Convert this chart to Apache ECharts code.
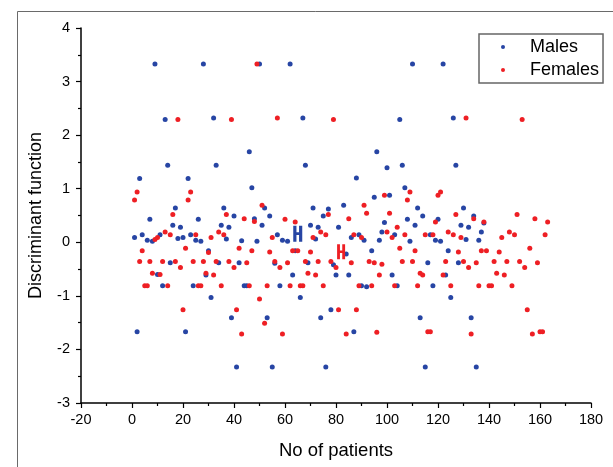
<!DOCTYPE html>
<html>
<head>
<meta charset="utf-8">
<script src="https://cdn.jsdelivr.net/npm/echarts@6/dist/echarts.min.js"></script>
<style>
  html, body { margin: 0; padding: 0; background: #fff; }
  #main { width: 613px; height: 467px; }
</style>
</head>
<body>
<div id="main"></div>
<script>
// patient number / discriminant score
const malePatients = [1,2,3,4,6,7,8,9,10,11,12,13,14,15,16,17,18,19,20,21,22,23,24,25,26,27,28,29,30,31,32,33,34,35,36,37,38,39,40,41,42,43,44,45,46,47,48,49,50,51,52,53,54,55,56,57,58,59,61,62,63,64,66,67,68,69,70,71,72,73,74,75,76,77,78,79,80,81,83,84,85,86,87,88,89,90,91,92,94,95,96,97,98,99,100,101,102,103,104,105,106,107,108,109,110,111,112,113,114,115,116,117,118,119,120,121,122,123,124,125,126,127,128,129,130,131,132,133,134,135,136,137,138]
const maleScores = [0.09,-1.67,1.19,0.14,0.04,0.43,0.02,3.33,-0.60,0.14,-0.81,2.29,1.44,-0.38,0.32,0.64,0.07,0.28,0.09,-1.67,1.19,0.14,-0.81,0.04,0.43,0.02,3.33,-0.61,-0.16,-1.03,2.32,1.44,-0.38,0.32,0.64,0.06,0.28,-1.41,0.49,-2.33,-0.38,0.03,-0.81,-0.81,1.69,1.02,0.44,0.02,3.33,0.32,0.64,-1.41,0.49,-2.33,-0.39,0.14,-0.81,0.04,0.02,3.33,-0.61,-0.16,-1.03,2.32,1.44,-0.38,0.32,0.64,0.06,0.28,-1.41,0.49,-2.33,0.62,-1.26,-0.42,-0.61,0.28,0.69,-0.22,-0.61,0.09,-1.67,1.20,0.14,-0.81,0.04,-0.83,-0.16,0.84,1.69,0.04,0.19,0.37,1.39,0.88,-0.61,0.14,-0.81,2.29,1.44,1.02,0.43,0.02,3.33,0.32,0.64,-1.41,0.49,-2.33,-0.38,0.14,-0.81,0.04,0.43,0.02,3.33,-0.61,-0.16,-1.03,2.32,1.44,-0.38,0.32,0.64,0.05,0.28,-1.41,0.49,-2.33,0.04,0.19,0.36]

const femalePatients = [1,2,3,4,5,6,7,8,9,10,11,12,13,14,15,16,17,18,19,20,21,22,23,24,25,26,27,28,29,30,31,32,33,34,35,36,37,38,39,40,41,42,43,44,45,46,47,48,49,50,51,52,53,54,55,56,57,58,59,60,61,62,63,64,65,66,67,68,69,70,71,72,73,74,75,76,77,78,79,80,81,84,85,86,87,88,89,90,91,92,93,94,95,96,97,98,99,100,101,102,103,104,105,106,107,108,109,110,111,112,113,114,115,116,117,118,119,120,121,122,123,124,125,126,127,128,129,130,131,132,133,134,135,136,137,138,139,140,141,142,143,144,145,146,147,148,149,150,151,152,153,154,155,156,157,158,159,160,161,162,163]
const femaleScores = [0.79,0.94,-0.36,-0.16,-0.81,-0.81,-0.36,-0.58,0.05,0.09,-0.60,-0.36,0.19,-0.81,0.14,0.52,-0.36,2.29,-0.47,-1.26,-0.11,0.79,0.94,-0.36,0.14,-0.81,-0.81,-0.36,-0.58,-0.19,0.09,-0.61,-0.36,0.19,-0.81,0.14,0.52,-0.36,2.29,-0.47,-1.26,-0.11,-1.71,0.44,-0.38,-0.81,-0.16,0.39,3.33,-1.06,0.69,-1.51,-0.81,-0.18,0.09,-0.36,2.32,-0.47,-1.71,0.43,-0.38,-0.81,-0.16,0.38,-0.16,-0.81,-0.81,-0.36,-0.58,-0.18,0.09,-0.61,-0.36,0.19,-0.81,0.14,0.52,-0.36,2.29,-0.47,-1.26,-1.71,0.44,-0.38,0.14,-1.26,-0.81,0.09,0.69,0.54,-0.36,-0.81,-0.38,-1.68,-0.61,-0.41,0.88,0.19,0.54,0.09,-0.81,0.28,-0.11,-0.36,0.14,0.79,0.94,-0.36,-0.16,-0.81,-0.58,-0.61,0.14,-1.67,-1.67,0.14,0.38,0.88,0.94,-0.61,-0.36,0.19,-0.81,0.14,0.52,-0.18,0.09,-0.36,2.32,-0.47,-1.71,0.44,-0.38,-0.81,-0.16,0.38,-0.16,-0.81,-0.81,-0.36,-0.58,-0.18,0.09,-0.61,-0.36,0.19,-0.81,0.14,0.52,-0.36,2.29,-0.47,-1.26,-0.11,-1.71,0.44,-0.38,-1.67,-1.67,0.14,0.38]

// group means (the H marks)
const meanMale = [65, 0.16]
const meanFemale = [82, -0.175]

const xTicks = { min: -20, max: 180, step: 20 }
const yTicks = { min: -3, max: 4, step: 1 }

const blue = '#2745a4'
const red = '#ee1f24'
const hPath = 'path://M0,0 L3.2,0 L3.2,5.8 L5.8,5.8 L5.8,0 L9,0 L9,14 L5.8,14 L5.8,8.2 L3.2,8.2 L3.2,14 L0,14 Z'

function pairs(xs, ys) {
  return xs.map((x, i) => [x, ys[i]])
}

const chartDom = document.getElementById('main')
const myChart = echarts.init(chartDom, null, { renderer: 'canvas' })
const font = '"Liberation Sans", Arial, sans-serif'

let option = {
  animation: false,
  backgroundColor: '#fff',
  textStyle: { fontFamily: font },
  grid: { left: 81, right: 22, top: 28, bottom: 64, containLabel: false },
  legend: {
    data: ['Males', 'Females'],
    orient: 'vertical',
    left: 479,
    top: 34,
    width: 126,
    itemWidth: 4,
    itemHeight: 4,
    itemGap: 5,
    icon: 'circle',
    padding: [4, 4, 4, 22],
    borderColor: '#666',
    borderWidth: 1.5,
    textStyle: { fontSize: 18, color: '#000', fontFamily: font, padding: [0, 0, 0, 20] }
  },
  xAxis: {
    type: 'value',
    min: xTicks.min,
    max: xTicks.max,
    interval: xTicks.step,
    name: 'No of patients',
    nameLocation: 'middle',
    nameGap: 38,
    nameTextStyle: { fontSize: 18.5, color: '#000', fontFamily: font },
    axisLine: { onZero: false, lineStyle: { color: '#000', width: 1.5 } },
    axisTick: { length: 5, lineStyle: { color: '#000', width: 1.2 } },
    minorTick: { show: true, splitNumber: 2, length: 3, lineStyle: { color: '#000', width: 1.2 } },
    axisLabel: { fontSize: 14.5, color: '#000', margin: 9, fontFamily: font },
    splitLine: { show: false }
  },
  yAxis: {
    type: 'value',
    min: yTicks.min,
    max: yTicks.max,
    interval: yTicks.step,
    name: 'Discriminant function',
    nameLocation: 'middle',
    nameGap: 36,
    nameTextStyle: { fontSize: 18, color: '#000', fontFamily: font },
    axisLine: { show: true, onZero: false, lineStyle: { color: '#000', width: 1.5 } },
    axisTick: { show: true, length: 5, lineStyle: { color: '#000', width: 1.2 } },
    minorTick: { show: true, splitNumber: 2, length: 3, lineStyle: { color: '#000', width: 1.2 } },
    axisLabel: { fontSize: 14.5, color: '#000', margin: 11, fontFamily: font },
    splitLine: { show: false }
  },
  graphic: [
    { type: 'line', shape: { x1: 17.5, y1: 11.5, x2: 613, y2: 11.5 }, style: { stroke: '#6a6a6a', lineWidth: 1 }, silent: true },
    { type: 'line', shape: { x1: 17.5, y1: 11.5, x2: 17.5, y2: 467 }, style: { stroke: '#6a6a6a', lineWidth: 1 }, silent: true }
  ],
  series: [
    {
      name: 'Males',
      type: 'scatter',
      symbol: 'circle',
      symbolSize: 5,
      itemStyle: { color: blue, opacity: 1 },
      data: pairs(malePatients, maleScores)
    },
    {
      name: 'Females',
      type: 'scatter',
      symbol: 'circle',
      symbolSize: 5,
      itemStyle: { color: red, opacity: 1 },
      data: pairs(femalePatients, femaleScores)
    },
    {
      name: 'meanMale',
      type: 'scatter',
      symbol: hPath,
      symbolSize: [9, 16],
      itemStyle: { color: blue, opacity: 1 },
      data: [meanMale]
    },
    {
      name: 'meanFemale',
      type: 'scatter',
      symbol: hPath,
      symbolSize: [8, 15],
      itemStyle: { color: red, opacity: 1 },
      data: [meanFemale]
    }
  ]
}

option && myChart.setOption(option)
</script>
</body>
</html>
